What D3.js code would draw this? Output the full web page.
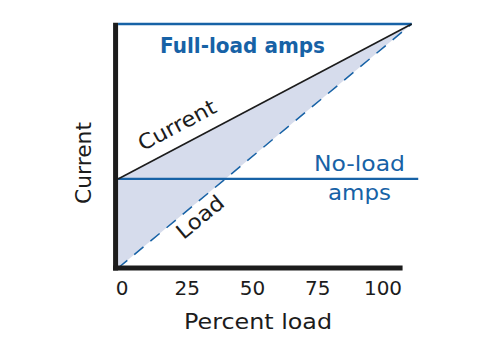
<!DOCTYPE html>
<html>
<head>
<meta charset="utf-8">
<script src="https://cdn.jsdelivr.net/npm/d3@7"></script>
<style>
  html, body { margin: 0; padding: 0; background: #ffffff; }
  svg { display: block; }
  text { font-family: "DejaVu Sans", sans-serif; }
</style>
</head>
<body>
<div id="chart"></div>
<script>
// ---- data (percent load vs current, % of full-load amps) ----
const loadPct      = [-1.5, 111];      // x extent of the drawn lines (percent load)
const currentVals  = [36.5, 100];      // motor current line
const loadVals     = [0, 100];         // load-current (dashed) line
const noLoadAmps   = 36.5;             // no-load amps level
const fullLoadAmps = 100;              // full-load amps level
const xTicks       = [0, 25, 50, 75, 100];
const xTickLabels  = ["0", "25", "50", "75", "100"];

const W = 485, H = 350;
const blue = "#1762a6", ink = "#1c1c1c", fillCol = "#d6dcec";

const svg = d3.select("#chart").append("svg")
  .attr("width", W).attr("height", H);

const x = d3.scaleLinear().domain([0, 100]).range([122, 383]);
const y = d3.scaleLinear().domain([0, 100]).range([268, 24]);

const curPts  = loadPct.map((p, i) => [p, currentVals[i]]);
const loadPts = loadPct.map((p, i) => [p, loadVals[i]]);

// shaded band between current and load
const area = d3.area()
  .x(d => x(d[0]))
  .y0(d => y(d[2]))
  .y1(d => y(d[1]));
svg.append("path")
  .datum(loadPct.map((p, i) => [p, currentVals[i], loadVals[i]]))
  .attr("d", area)
  .attr("fill", fillCol);

const line = d3.line().x(d => x(d[0])).y(d => y(d[1]));

// full-load amps line (top)
svg.append("path")
  .datum([[loadPct[0], fullLoadAmps], [loadPct[1], fullLoadAmps]])
  .attr("d", line).attr("fill", "none")
  .attr("stroke", blue).attr("stroke-width", 2.5);

// no-load amps line
svg.append("path")
  .datum([[loadPct[0], noLoadAmps], [113.5, noLoadAmps]])
  .attr("d", line).attr("fill", "none")
  .attr("stroke", blue).attr("stroke-width", 2.2);

// load line (dashed)
svg.append("path")
  .datum(loadPts)
  .attr("d", line).attr("fill", "none")
  .attr("stroke", blue).attr("stroke-width", 1.5)
  .attr("stroke-dasharray", "12,9");

// current line
svg.append("path")
  .datum(curPts)
  .attr("d", line).attr("fill", "none")
  .attr("stroke", ink).attr("stroke-width", 1.6);

// axes (thick)
const xAxisEnd = 107.5;
svg.append("line")
  .attr("x1", x(loadPct[0]) - 5).attr("x2", x(xAxisEnd))
  .attr("y1", y(0)).attr("y2", y(0))
  .attr("stroke", ink).attr("stroke-width", 5);
svg.append("line")
  .attr("x1", x(loadPct[0]) - 2.5).attr("x2", x(loadPct[0]) - 2.5)
  .attr("y1", y(fullLoadAmps) - 1.2).attr("y2", y(0) + 2.5)
  .attr("stroke", ink).attr("stroke-width", 5);

// tick labels
svg.append("g").selectAll("text")
  .data(xTicks)
  .join("text")
  .attr("x", d => x(d))
  .attr("y", 295)
  .attr("text-anchor", "middle")
  .attr("font-size", 20)
  .attr("fill", ink)
  .text((d, i) => xTickLabels[i]);

// axis titles
svg.append("text")
  .attr("x", 258).attr("y", 329)
  .attr("text-anchor", "middle")
  .attr("font-size", 21)
  .attr("textLength", 148).attr("lengthAdjust", "spacingAndGlyphs")
  .attr("fill", ink)
  .text("Percent load");

svg.append("text")
  .attr("transform", "translate(91,163) rotate(-90)")
  .attr("text-anchor", "middle")
  .attr("font-size", 21)
  .attr("textLength", 82).attr("lengthAdjust", "spacingAndGlyphs")
  .attr("fill", ink)
  .text("Current");

// annotations
svg.append("text")
  .attr("x", 242.5).attr("y", 53)
  .attr("text-anchor", "middle")
  .attr("font-size", 21).attr("font-weight", "bold")
  .attr("textLength", 165).attr("lengthAdjust", "spacingAndGlyphs")
  .attr("fill", blue)
  .text("Full-load amps");

svg.append("text")
  .attr("x", 359.5).attr("y", 171)
  .attr("text-anchor", "middle")
  .attr("font-size", 21)
  .attr("textLength", 91).attr("lengthAdjust", "spacingAndGlyphs")
  .attr("fill", blue)
  .text("No-load");

svg.append("text")
  .attr("x", 359.5).attr("y", 200)
  .attr("text-anchor", "middle")
  .attr("font-size", 21)
  .attr("textLength", 63).attr("lengthAdjust", "spacingAndGlyphs")
  .attr("fill", blue)
  .text("amps");

const angCur = Math.atan2(y(currentVals[1]) - y(currentVals[0]), x(loadPct[1]) - x(loadPct[0])) * 180 / Math.PI;
const angLoad = Math.atan2(y(loadVals[1]) - y(loadVals[0]), x(loadPct[1]) - x(loadPct[0])) * 180 / Math.PI;

svg.append("text")
  .attr("transform", `translate(177,125) rotate(${angCur})`)
  .attr("text-anchor", "middle")
  .attr("dy", "0.35em")
  .attr("font-size", 21)
  .attr("textLength", 85).attr("lengthAdjust", "spacingAndGlyphs")
  .attr("fill", ink)
  .text("Current");

svg.append("text")
  .attr("transform", `translate(200,217) rotate(${angLoad})`)
  .attr("text-anchor", "middle")
  .attr("dy", "0.35em")
  .attr("font-size", 21)
  .attr("textLength", 55).attr("lengthAdjust", "spacingAndGlyphs")
  .attr("fill", ink)
  .text("Load");
</script>
</body>
</html>
